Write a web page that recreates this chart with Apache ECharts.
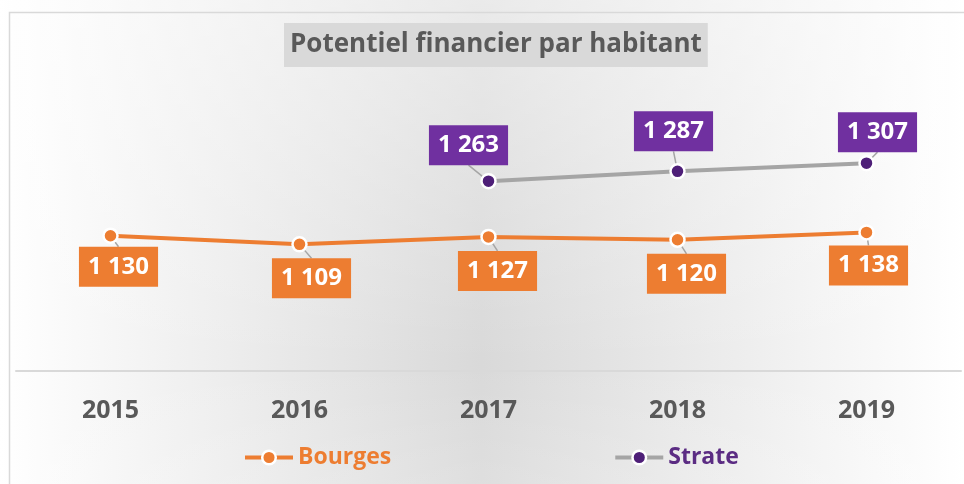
<!DOCTYPE html>
<html>
<head>
<meta charset="utf-8">
<script src="https://cdn.jsdelivr.net/npm/echarts@6/dist/echarts.min.js"></script>
<style>
  html, body { margin: 0; padding: 0; background: #fff; }
  #chart { width: 964px; height: 484px; }
</style>
</head>
<body>
<div id="chart"></div>
<script>
// données
const years = ['2015', '2016', '2017', '2018', '2019']
const bourges = [1130, 1109, 1127, 1120, 1138]
const strate = ['-', '-', 1263, 1287, 1307]

// décalage des étiquettes (px)
const bourgesShift = [[8, 31], [12, 34], [9, 34], [9, 34], [2, 33]]
const strateShift = [[0, 0], [0, 0], [-20, -36], [-4, -40], [11, -31]]

const font = '"Open Sans", "Noto Sans", sans-serif'

const chart = echarts.init(document.getElementById('chart'))

const fmt = (p) => p.value.toLocaleString('fr-FR').replace(/\s/g, ' ')

const option = {
  backgroundColor: {
    type: 'linear', x: 0, y: 0, x2: 1, y2: 0,
    colorStops: [
      { offset: 0, color: '#ffffff' },
      { offset: 0.5, color: '#d9d9d9' },
      { offset: 1, color: '#ffffff' }
    ]
  },
  animation: false,
  title: {
    text: 'Potentiel financier par habitant',
    left: 284,
    top: 23,
    backgroundColor: '#d9d9d9',
    padding: [9, 6, 9, 6],
    textStyle: { color: '#595959', fontSize: 26, fontWeight: 'bold', fontFamily: font }
  },
  graphic: [
    {
      type: 'rect', left: 0, top: 0, z: -10,
      shape: { width: 964, height: 484 },
      style: {
        fill: {
          type: 'linear', x: 0, y: 0, x2: 0, y2: 1,
          colorStops: [
            { offset: 0, color: 'rgba(255,255,255,0.45)' },
            { offset: 0.75, color: 'rgba(255,255,255,0)' },
            { offset: 1, color: 'rgba(255,255,255,0.15)' }
          ]
        }
      },
      silent: true
    },
    {
      type: 'rect', left: 7, top: 10,
      shape: { width: 980, height: 500 },
      style: { fill: 'none', stroke: '#d9d9d9', lineWidth: 1.5 },
      silent: true
    }
  ],
  legend: {
    left: 243,
    top: 446,
    padding: 0,
    itemWidth: 48,
    itemHeight: 17,
    itemGap: 222,
    lineStyle: { width: 4 },
    itemStyle: { borderColor: '#fff', borderWidth: 2.5 },
    textStyle: { fontSize: 23, fontWeight: 'bold', fontFamily: font },
    data: [
      { name: 'Bourges', textStyle: { color: '#ED7D31' } },
      { name: 'Strate', textStyle: { color: '#5B2C83' } }
    ]
  },
  grid: { left: 16, right: 3, top: 125, bottom: 113 },
  xAxis: {
    type: 'category',
    data: years,
    axisLine: { lineStyle: { color: '#d9d9d9', width: 2 } },
    axisTick: { show: false },
    axisLabel: { color: '#595959', fontSize: 25, fontWeight: 'bold', fontFamily: font, margin: 27 }
  },
  yAxis: {
    type: 'value', min: 800, max: 1400,
    show: false, splitLine: { show: false }
  },
  series: [
    {
      name: 'Bourges',
      type: 'line',
      data: bourges,
      symbol: 'circle',
      symbolSize: 14,
      lineStyle: { color: '#ED7D31', width: 4 },
      itemStyle: { color: '#ED7D31', borderColor: '#fff', borderWidth: 2.5 },
      label: {
        show: true,
        position: 'inside',
        formatter: fmt,
        color: '#fff',
        fontSize: 24,
        fontWeight: 'bold',
        fontFamily: font,
        backgroundColor: '#ED7D31',
        padding: [9, 9, 7, 9]
      },
      labelLine: { show: true, lineStyle: { color: '#a5a5a5', width: 1.5 } },
      labelLayout: (p) => ({ dx: bourgesShift[p.dataIndex][0], dy: bourgesShift[p.dataIndex][1] }),
      z: 3
    },
    {
      name: 'Strate',
      type: 'line',
      data: strate,
      symbol: 'circle',
      symbolSize: 14,
      lineStyle: { color: '#A5A5A5', width: 4 },
      itemStyle: { color: '#4E1F78', borderColor: '#fff', borderWidth: 2.5 },
      label: {
        show: true,
        position: 'inside',
        formatter: fmt,
        color: '#fff',
        fontSize: 24,
        fontWeight: 'bold',
        fontFamily: font,
        backgroundColor: '#7030A0',
        padding: [9, 9, 7, 9]
      },
      labelLine: { show: true, lineStyle: { color: '#a5a5a5', width: 1.5 } },
      labelLayout: (p) => ({ dx: strateShift[p.dataIndex][0], dy: strateShift[p.dataIndex][1] }),
      z: 3
    }
  ]
}

chart.setOption(option)
</script>
</body>
</html>
